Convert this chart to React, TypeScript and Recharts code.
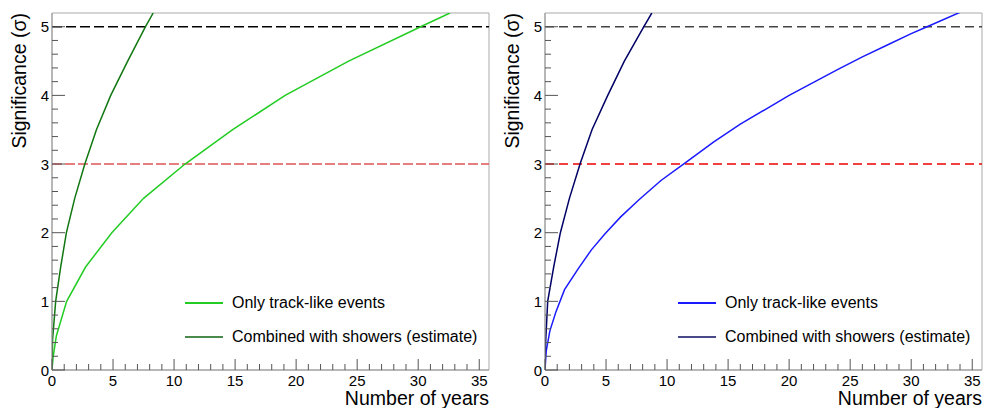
import { LineChart, Line, XAxis, YAxis, ReferenceLine, ReferenceArea } from 'recharts';

type Pt = { x: number; y: number };

const trackLeft: Pt[] = [
  { x: 0, y: 0 }, { x: 0.1, y: 0.2 }, { x: 0.36, y: 0.5 }, { x: 1.2, y: 1.0 }, { x: 2.75, y: 1.5 },
  { x: 4.9, y: 2.0 }, { x: 7.5, y: 2.5 }, { x: 10.9, y: 3.0 }, { x: 14.8, y: 3.5 }, { x: 19.1, y: 4.0 },
  { x: 24.3, y: 4.5 }, { x: 30.2, y: 5.0 }, { x: 32.6, y: 5.2 },
];
const combinedLeft: Pt[] = [
  { x: 0, y: 0 }, { x: 0.05, y: 0.45 }, { x: 0.3, y: 1.0 }, { x: 0.71, y: 1.5 }, { x: 1.18, y: 2.0 },
  { x: 1.86, y: 2.5 }, { x: 2.69, y: 3.0 }, { x: 3.64, y: 3.5 }, { x: 4.81, y: 4.0 }, { x: 6.2, y: 4.5 },
  { x: 7.66, y: 5.0 }, { x: 8.29, y: 5.2 },
];
const trackRight: Pt[] = [
  { x: 0, y: 0 }, { x: 0.1, y: 0.28 }, { x: 0.4, y: 0.57 }, { x: 0.9, y: 0.85 }, { x: 1.6, y: 1.17 },
  { x: 2.7, y: 1.47 }, { x: 3.8, y: 1.75 }, { x: 4.9, y: 1.98 }, { x: 6.2, y: 2.23 }, { x: 7.7, y: 2.48 },
  { x: 9.5, y: 2.76 }, { x: 11.6, y: 3.03 }, { x: 13.8, y: 3.32 }, { x: 16.0, y: 3.58 }, { x: 18.0, y: 3.79 },
  { x: 20.0, y: 4.0 }, { x: 22.0, y: 4.19 }, { x: 24.0, y: 4.38 }, { x: 26.0, y: 4.56 }, { x: 28.0, y: 4.73 },
  { x: 30.0, y: 4.9 }, { x: 31.3, y: 5.0 }, { x: 34.0, y: 5.21 },
];
const combinedRight: Pt[] = [
  { x: 0, y: 0 }, { x: 0.05, y: 0.4 }, { x: 0.22, y: 1.0 }, { x: 0.71, y: 1.5 }, { x: 1.26, y: 2.0 },
  { x: 2.0, y: 2.5 }, { x: 2.87, y: 3.0 }, { x: 3.85, y: 3.5 }, { x: 5.14, y: 4.0 }, { x: 6.5, y: 4.5 },
  { x: 8.1, y: 5.0 }, { x: 8.75, y: 5.2 },
];

const xTicks = [
  0, 1, 2, 3, 4, 5, 6, 7, 8, 9, 10, 11, 12, 13, 14, 15, 16, 17, 18, 19, 20, 21, 22, 23, 24, 25,
  26, 27, 28, 29, 30, 31, 32, 33, 34, 35,
];
const xMajor = [0, 5, 10, 15, 20, 25, 30, 35];
const yTicks = [
  0, 0.2, 0.4, 0.6, 0.8, 1, 1.2, 1.4, 1.6, 1.8, 2, 2.2, 2.4, 2.6, 2.8, 3, 3.2, 3.4, 3.6, 3.8, 4,
  4.2, 4.4, 4.6, 4.8, 5,
];
const yMajor = [0, 1, 2, 3, 4, 5];

const legendLabels = ['Only track-like events', 'Combined with showers (estimate)'];
const xTitle = 'Number of years';
const yTitle = 'Significance (σ)';

const FONT = '"Liberation Sans", Arial, sans-serif';
const X_MAX = 35.8;
const Y_MAX = 5.2;
const W = 493;
const H = 408;

const renderXTick = (props: any) => {
  const { x, y, payload } = props;
  const major = xMajor.includes(payload.value);
  return (
    <g key={`xt-${payload.value}`}>
      <line x1={x} x2={x} y1={y} y2={y - (major ? 11 : 6)} stroke="#555" />
      {major && (
        <text x={x} y={y + 16} textAnchor="middle" fontSize={15} fontFamily={FONT} fill="#000">
          {payload.value}
        </text>
      )}
    </g>
  );
};

const renderYTick = (props: any) => {
  const { x, y, payload } = props;
  const major = yMajor.includes(Math.round(payload.value * 10) / 10);
  return (
    <g key={`yt-${payload.value}`}>
      <line x1={x} x2={x + (major ? 13 : 6)} y1={y} y2={y} stroke="#555" />
      {major && (
        <text x={x - 3} y={y + 5.5} textAnchor="end" fontSize={15} fontFamily={FONT} fill="#000">
          {payload.value}
        </text>
      )}
    </g>
  );
};

type PanelProps = {
  track: Pt[];
  combined: Pt[];
  trackColor: string;
  combinedColor: string;
  legendCombined: string;
  fiveColor: string;
  threeColor: string;
  dash3: string;
  dash5: string;
};

function Panel(p: PanelProps) {
  return (
    <div style={{ position: 'relative', width: W, height: H }}>
      <LineChart width={W} height={H} margin={{ top: 13, right: 4, bottom: 37, left: 51 }}>
        <XAxis
          type="number"
          dataKey="x"
          domain={[0, X_MAX]}
          ticks={xTicks}
          interval={0}
          allowDataOverflow
          height={1}
          tickSize={0}
          tickMargin={0}
          tickLine={false}
          tick={renderXTick}
          axisLine={{ stroke: '#999' }}
        />
        <YAxis
          type="number"
          domain={[0, Y_MAX]}
          ticks={yTicks}
          interval={0}
          allowDataOverflow
          width={1}
          tickSize={0}
          tickMargin={0}
          tickLine={false}
          tick={renderYTick}
          axisLine={{ stroke: '#999' }}
        />
        <ReferenceArea x1={0} x2={X_MAX} y1={0} y2={Y_MAX} fill="none" stroke="#aaa" />
        <ReferenceLine y={5} stroke={p.fiveColor} strokeWidth={1.5} strokeDasharray={p.dash5} />
        <ReferenceLine y={3} stroke={p.threeColor} strokeWidth={1.5} strokeDasharray={p.dash3} />
        <Line
          data={p.track}
          dataKey="y"
          type="linear"
          stroke={p.trackColor}
          strokeWidth={1.5}
          dot={false}
          isAnimationActive={false}
        />
        <Line
          data={p.combined}
          dataKey="y"
          type="linear"
          stroke={p.combinedColor}
          strokeWidth={1.5}
          dot={false}
          isAnimationActive={false}
        />
      </LineChart>

      {/* legend */}
      <div style={{ position: 'absolute', left: 185, top: 292, fontFamily: FONT, fontSize: 16, color: '#000' }}>
        {[p.trackColor, p.legendCombined].map((c, i) => (
          <div key={i} style={{ display: 'flex', alignItems: 'center', height: 22, marginBottom: i === 0 ? 11.5 : 0 }}>
            <div style={{ width: 38, height: 2, background: c, marginRight: 9 }} />
            <span style={{ whiteSpace: 'nowrap' }}>{legendLabels[i]}</span>
          </div>
        ))}
      </div>

      {/* axis titles */}
      <svg width={W} height={H} style={{ position: 'absolute', left: 0, top: 0, pointerEvents: 'none' }}>
        <text x={489} y={405} textAnchor="end" fontSize={19.5} fontFamily={FONT} fill="#000">
          {xTitle}
        </text>
        <text
          x={0}
          y={0}
          transform="translate(26,13) rotate(-90)"
          textAnchor="end"
          fontSize={19.5}
          fontFamily={FONT}
          fill="#000"
        >
          {yTitle}
        </text>
      </svg>
    </div>
  );
}

export default function App() {
  return (
    <div style={{ position: 'absolute', left: 0, top: 0, width: 986, height: 408, display: 'flex', background: '#fff' }}>
      <Panel
        track={trackLeft}
        combined={combinedLeft}
        trackColor="#22cc22"
        combinedColor="#117711"
        legendCombined="#4a8a4a"
        fiveColor="#000"
        threeColor="#dd5555"
        dash3="10 3"
        dash5="10 4"
      />
      <Panel
        track={trackRight}
        combined={combinedRight}
        trackColor="#1a1aff"
        combinedColor="#000066"
        legendCombined="#4a4a8a"
        fiveColor="#444"
        threeColor="#ee0000"
        dash3="9 5"
        dash5="9 5"
      />
    </div>
  );
}
